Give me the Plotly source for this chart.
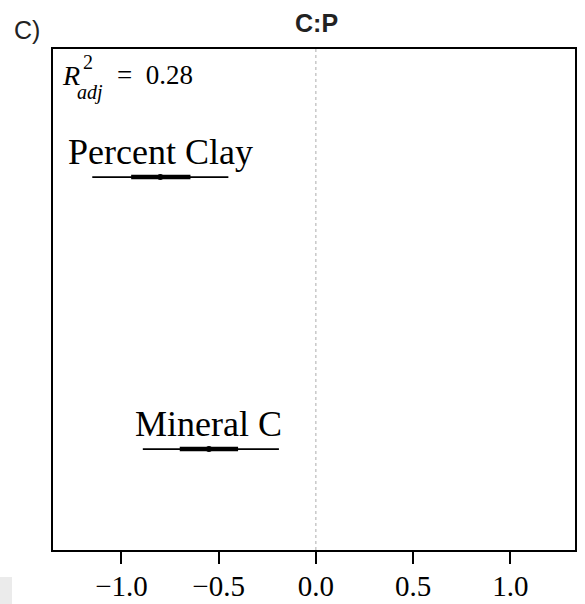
import plotly.graph_objects as go

# Data
variables = ["Percent Clay", "Mineral C"]
y_pos = [2, 1]
estimate = [-0.80, -0.55]
ci_outer_lo = [-1.15, -0.89]
ci_outer_hi = [-0.45, -0.19]
ci_inner_lo = [-0.95, -0.70]
ci_inner_hi = [-0.645, -0.40]
x_ticks = [-1.0, -0.5, 0.0, 0.5, 1.0]
x_tick_labels = ["\u22121.0", "\u22120.5", "0.0", "0.5", "1.0"]
r2_adj = 0.28
title = "C:P"
panel = "C)"

serif = "Liberation Serif, Times New Roman, serif"
sans = "Liberation Sans, Arial, sans-serif"

Y_RANGE = [0.629, 2.471]

fig = go.Figure()

# zero reference line
fig.add_trace(go.Scatter(x=[0, 0], y=Y_RANGE, mode="lines",
                         line=dict(color="#bbbbbb", width=1.2, dash="dot"),
                         hoverinfo="skip", showlegend=False))

for i, v in enumerate(variables):
    yv = y_pos[i]
    fig.add_trace(go.Scatter(x=[ci_outer_lo[i], ci_outer_hi[i]], y=[yv, yv], mode="lines",
                             line=dict(color="black", width=1.6), showlegend=False))
    fig.add_trace(go.Scatter(x=[ci_inner_lo[i], ci_inner_hi[i]], y=[yv, yv], mode="lines",
                             line=dict(color="black", width=4.5), showlegend=False))
    fig.add_trace(go.Scatter(x=[estimate[i]], y=[yv], mode="markers",
                             marker=dict(color="black", size=6), showlegend=False))
    fig.add_annotation(x=estimate[i], y=yv, text=v, showarrow=False,
                       xanchor="center", yanchor="bottom", yshift=3,
                       font=dict(family=serif, size=36, color="black"))

H = 501  # plot height in px (49 .. 550)
def py(ypix):
    return (550 - ypix) / H

# R^2 adj annotation (stacked super/subscript)
fig.add_annotation(xref="paper", yref="paper", x=(60 - 53) / 522, y=py(75),
                   text="<i>R</i>", showarrow=False, xanchor="left", yanchor="middle",
                   font=dict(family=serif, size=28, color="black"))
fig.add_annotation(xref="paper", yref="paper", x=(81 - 53) / 522, y=py(62),
                   text="2", showarrow=False, xanchor="left", yanchor="middle",
                   font=dict(family=serif, size=20, color="black"))
fig.add_annotation(xref="paper", yref="paper", x=(75 - 53) / 522, y=py(92),
                   text="<i>adj</i>", showarrow=False, xanchor="left", yanchor="middle",
                   font=dict(family=serif, size=20, color="black"))
fig.add_annotation(xref="paper", yref="paper", x=(115 - 53) / 522, y=py(75),
                   text="=  %.2f" % r2_adj, showarrow=False, xanchor="left", yanchor="middle",
                   font=dict(family=serif, size=27, color="black"))

# title and panel label
fig.add_annotation(xref="paper", yref="paper", x=(316 - 53) / 522, y=py(23),
                   text="<b>%s</b>" % title, showarrow=False, xanchor="center", yanchor="middle",
                   font=dict(family=sans, size=25, color="#222222"))
fig.add_annotation(xref="paper", yref="paper", x=(12 - 53) / 522, y=py(30),
                   text=panel, showarrow=False, xanchor="left", yanchor="middle",
                   font=dict(family=sans, size=25, color="#222222"))

# grey artefact bottom-left
fig.add_shape(type="rect", xref="paper", yref="paper",
              x0=(0 - 53) / 522, x1=(12 - 53) / 522,
              y0=py(604), y1=py(577),
              fillcolor="#ebebeb", line=dict(width=0), layer="below")

fig.update_layout(
    width=585, height=604,
    margin=dict(l=53, r=10, t=49, b=54, autoexpand=False),
    paper_bgcolor="white", plot_bgcolor="white",
    showlegend=False,
)
fig.update_xaxes(range=[-1.352, 1.333], tickvals=x_ticks, ticktext=x_tick_labels,
                 ticks="outside", ticklen=12, tickwidth=1.5, tickcolor="black",
                 showline=True, linecolor="black", linewidth=2, mirror=True,
                 showgrid=False, zeroline=False, ticklabelstandoff=-3, automargin=False,
                 tickfont=dict(family=serif, size=29, color="black"))
fig.update_yaxes(range=Y_RANGE, showticklabels=False, ticks="", automargin=False,
                 showline=True, linecolor="black", linewidth=2, mirror=True,
                 showgrid=False, zeroline=False)

fig.write_html("out.html")
